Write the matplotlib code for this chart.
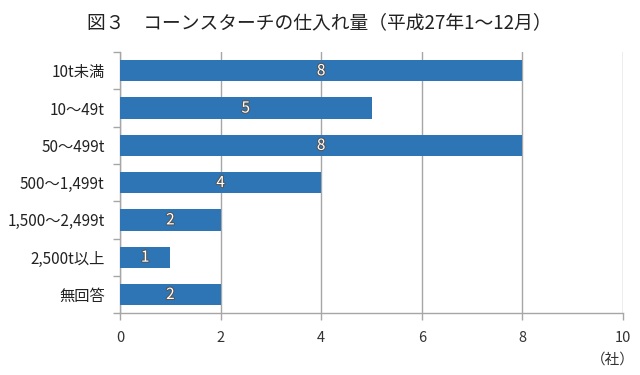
import matplotlib.pyplot as plt
import matplotlib.patheffects as pe

plt.rcParams['font.family'] = ['Noto Sans CJK JP', 'DejaVu Sans']

categories = ["10t未満", "10〜49t", "50〜499t", "500〜1,499t", "1,500〜2,499t", "2,500t以上", "無回答"]
counts = [8, 5, 8, 4, 2, 1, 2]
xticks = [0, 2, 4, 6, 8, 10]

bar_color = "#2E75B6"
grid_color = "#A6A6A6"

fig = plt.figure(figsize=(6.4, 3.75), dpi=100)
ax = fig.add_axes([0.1875, 0.165, 0.786, 0.696])

ypos = list(range(len(categories)))
ax.barh(ypos, counts, height=0.57, color=bar_color, zorder=3)

for y, v in zip(ypos, counts):
    ax.text(v / 2, y, str(v), ha="center", va="center", fontsize=11, color="white",
            zorder=4, path_effects=[pe.withStroke(linewidth=1.5, foreground="#555555")])

ax.set_xlim(0, 10)
ax.set_ylim(len(categories) - 0.5, -0.5)
ax.set_xticks(xticks)
ax.set_xticklabels([str(t) for t in xticks], fontsize=10.5, color="#333333")
ax.set_yticks(ypos)
ax.set_yticklabels(categories, fontsize=11, color="#222222")
ax.set_yticks([i + 0.5 for i in range(-1, len(categories))], minor=True)
ax.tick_params(axis="y", which="major", length=0, pad=11)
ax.tick_params(axis="y", which="minor", length=5, color=grid_color, width=1)
ax.tick_params(axis="x", length=5, color=grid_color, width=1, pad=8)
ax.xaxis.grid(True, color=grid_color, linewidth=1, zorder=0)
for s in ["top", "right"]:
    ax.spines[s].set_visible(False)
for s in ["left", "bottom"]:
    ax.spines[s].set_color(grid_color)
    ax.spines[s].set_linewidth(1)

fig.text(0.499, 0.94, "図３　コーンスターチの仕入れ量（平成27年1〜12月）", ha="center", va="center",
         fontsize=13.5, color="#222222")
fig.text(0.958, 0.04, "（社）", ha="center", va="center", fontsize=10.5, color="#333333")

fig.savefig("out.png", dpi=100)
